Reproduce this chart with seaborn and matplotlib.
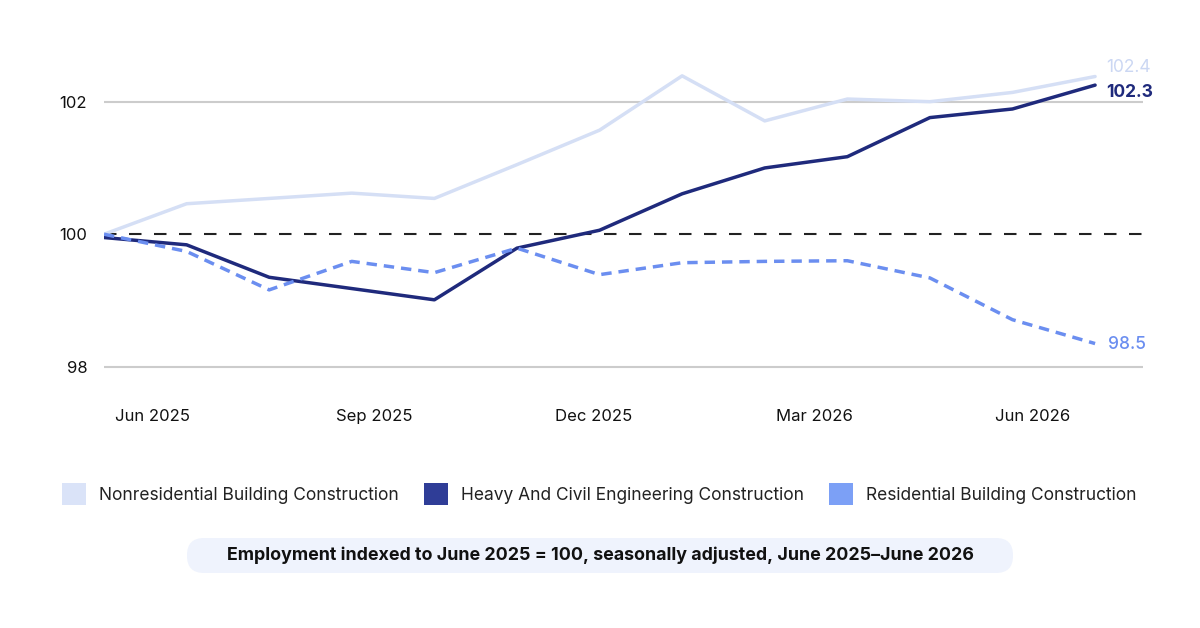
import pandas as pd
import matplotlib.pyplot as plt
import seaborn as sns
from matplotlib.patches import Patch, FancyBboxPatch

# Monthly index values, June 2025 = 100
months = ['Jun 2025', 'Jul 2025', 'Aug 2025', 'Sep 2025', 'Oct 2025', 'Nov 2025', 'Dec 2025',
          'Jan 2026', 'Feb 2026', 'Mar 2026', 'Apr 2026', 'May 2026', 'Jun 2026']
nonresidential = [100.0, 100.46, 100.54, 100.62, 100.54, 101.05, 101.57, 102.39, 101.71, 102.04, 102.0, 102.14, 102.38]
heavy_civil = [99.95, 99.84, 99.35, 99.18, 99.01, 99.79, 100.06, 100.61, 101.0, 101.17, 101.76, 101.89, 102.25]
residential = [100.0, 99.74, 99.16, 99.59, 99.42, 99.79, 99.39, 99.57, 99.59, 99.60, 99.34, 98.71, 98.35]

series_names = ['Nonresidential Building Construction', 'Heavy And Civil Engineering Construction',
                'Residential Building Construction']
end_labels = ['102.4', '102.3', '98.5']
tick_labels = ['Jun 2025', 'Sep 2025', 'Dec 2025', 'Mar 2026', 'Jun 2026']
y_ticks = [98, 100, 102]
footer = 'Employment indexed to June 2025 = 100, seasonally adjusted, June 2025\u2013June 2026'

line_colors = ['#d5dff5', '#1f2a7c', '#6b8ef0']
patch_colors = ['#dae3f8', '#2f3d97', '#7ca0f6']
label_colors = ['#cbd7f3', '#1f2a7c', '#6b8ef0']

df = pd.DataFrame({
    'idx': list(range(len(months))) * 3,
    'value': nonresidential + heavy_civil + residential,
    'series': [s for s in series_names for _ in months],
})

sns.set_style('white')
plt.rcParams['font.family'] = ['Inter', 'DejaVu Sans']

fig = plt.figure(figsize=(12, 6.28), dpi=100)

# background overlay in pixel coordinates for the footer pill
bg = fig.add_axes([0, 0, 1, 1], zorder=0)
bg.set_xlim(0, 1200)
bg.set_ylim(628, 0)
bg.axis('off')
bg.add_patch(FancyBboxPatch((187, 538), 826, 35, boxstyle='round,pad=0,rounding_size=17',
                            facecolor='#eff3fd', edgecolor='none'))
bg.text(600, 555, footer, ha='center', va='center', fontsize=12.85,
        fontweight='bold', color='#111111')

ax = fig.add_axes([104 / 1200, 1 - 380 / 628, (1143 - 104) / 1200, 330 / 628], zorder=1)
ax.patch.set_alpha(0)

# gridlines
for yv in y_ticks:
    if yv == 100:
        ax.axhline(yv, color='#222222', lw=1.5, dashes=(6, 6), zorder=1)
    else:
        ax.axhline(yv, color='#cccccc', lw=1.5, zorder=1)

sns.lineplot(data=df, x='idx', y='value', hue='series', style='series',
             palette=dict(zip(series_names, line_colors)),
             dashes={series_names[0]: '', series_names[1]: '', series_names[2]: (3, 2)},
             linewidth=2.5, legend=False, ax=ax, zorder=3)
# keep the light line under the others
for ln in ax.get_lines():
    if ln.get_color() == line_colors[0]:
        ln.set_zorder(2)

last = len(months) - 1
ax.text(last + 0.14, 102.52, end_labels[0], color=label_colors[0], fontsize=12.5,
        va='center', ha='left')
ax.text(last + 0.14, 102.14, end_labels[1], color=label_colors[1], fontsize=12.5,
        fontweight='bold', va='center', ha='left')
ax.text(last + 0.16, 98.33, end_labels[2], color=label_colors[2], fontsize=12.5,
        fontweight='medium', va='center', ha='left')

ax.set_xlim(0, 12.58)
ax.set_ylim(97.80, 102.78)
ax.set_xticks([0.59, 3.27, 5.93, 8.60, 11.24])
ax.set_xticklabels(tick_labels)
ax.set_yticks(y_ticks)
ax.set_yticklabels([str(v) for v in y_ticks])
ax.tick_params(axis='x', length=0, pad=21, labelsize=12, labelcolor='#111111')
ax.tick_params(axis='y', length=0, pad=12, labelsize=12, labelcolor='#111111')
ax.set_xlabel('')
ax.set_ylabel('')
sns.despine(ax=ax, left=True, bottom=True)

handles = [Patch(facecolor=c, edgecolor='none') for c in patch_colors]
fig.legend(handles, series_names, loc='center', bbox_to_anchor=(599 / 1200, 1 - 494 / 628),
           ncol=3, frameon=False, fontsize=12.5, handlelength=1.38, handleheight=1.5,
           handletextpad=0.75, columnspacing=1.45, labelcolor='#222222')

plt.savefig('out.png', dpi=100)
